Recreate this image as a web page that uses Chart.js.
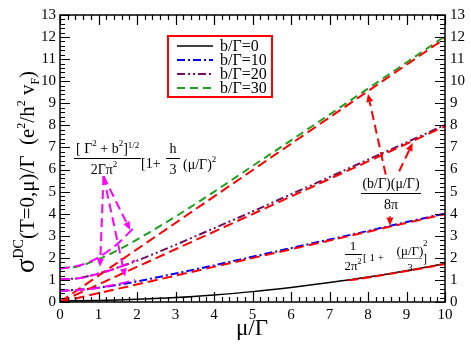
<!DOCTYPE html>
<html>
<head>
<meta charset="utf-8">
<script src="https://cdn.jsdelivr.net/npm/chart.js@4.4.1/dist/chart.umd.min.js"></script>
<style>
  body { margin: 0; background: #fff; }
</style>
</head>
<body>
<canvas id="chart" width="471" height="346"></canvas>
<script>
// mu/Gamma grid used by the full curves
const mu = [0, 0.5, 1, 1.5, 2, 3, 4, 5, 6, 7, 8, 9, 10];
const sigmaB0 = [0.05, 0.055, 0.07, 0.09, 0.12, 0.2, 0.32, 0.47, 0.66, 0.88, 1.13, 1.42, 1.74];
const sigmaB10 = [0.51, 0.56, 0.65, 0.77, 0.93, 1.29, 1.66, 2.05, 2.44, 2.83, 3.22, 3.62, 4.01];
const sigmaB20 = [1.02, 1.09, 1.29, 1.56, 1.87, 2.59, 3.34, 4.1, 4.88, 5.66, 6.45, 7.23, 8.02];
const sigmaB30 = [1.52, 1.63, 1.94, 2.35, 2.83, 3.87, 4.99, 6.16, 7.32, 8.49, 9.67, 10.85, 12.04];

// large mu/Gamma asymptotes (red dashed)
const asymMu = [0, 10];
const asymB10 = [0, 3.98];
const asymB20 = [0, 7.96];
const asymB30 = [0, 11.94];
const asymB0Mu = [7.5, 8, 9, 10];
const asymB0 = [0.98, 1.11, 1.4, 1.72];

// small mu/Gamma expansions (magenta dashed)
const smallMu = [0, 0.5, 1, 1.5, 1.95];
const smallB10 = [0.51, 0.54, 0.64, 0.81, 1.0];
const smallB20 = [1.02, 1.08, 1.28, 1.55, 1.88];
const smallB30 = [1.52, 1.65, 2.02, 2.65, 3.42];

const xTicks = [0, 1, 2, 3, 4, 5, 6, 7, 8, 9, 10];
const yTicks = [0, 1, 2, 3, 4, 5, 6, 7, 8, 9, 10, 11, 12, 13];

// annotation arrows [fromX, fromY, toX, toY] in data units
const magentaArrows = [[1.13, 5.7, 1.82, 3.27], [1.13, 5.7, 1.04, 1.6], [1.13, 5.7, 1.69, 1.15]];
const redArrows = [[8.46, 5.77, 8.0, 9.42], [8.81, 5.92, 9.16, 7.2], [8.57, 3.88, 8.57, 3.47]];

const SERIF = '"Liberation Serif", "DejaVu Serif", serif';
const pts = (xs, ys) => xs.map((x, i) => ({ x: x, y: ys[i] }));

function line(label, xs, ys, color, dash, width, order, inLegend) {
  return {
    label: label,
    data: pts(xs, ys),
    borderColor: color,
    borderDash: dash,
    borderWidth: width,
    pointRadius: 0,
    fill: false,
    cubicInterpolationMode: 'monotone',
    order: order,
    inLegend: inLegend
  };
}

function drawRuns(ctx, x, y, parts, align) {
  let w = 0;
  parts.forEach(p => {
    ctx.font = p.size + 'px ' + SERIF;
    p.w = ctx.measureText(p.t).width;
    w += p.w;
  });
  let cx = align === 'center' ? x - w / 2 : (align === 'right' ? x - w : x);
  ctx.textAlign = 'left';
  ctx.textBaseline = 'alphabetic';
  parts.forEach(p => {
    ctx.font = p.size + 'px ' + SERIF;
    ctx.fillText(p.t, cx, y - (p.dy || 0));
    cx += p.w;
  });
  return w;
}

function arrow(ctx, xs, ys, a, color) {
  const x0 = xs.getPixelForValue(a[0]), y0 = ys.getPixelForValue(a[1]);
  const x1 = xs.getPixelForValue(a[2]), y1 = ys.getPixelForValue(a[3]);
  const ang = Math.atan2(y1 - y0, x1 - x0);
  const c = Math.cos(ang), s = Math.sin(ang);
  const hl = 8, hw = 3.5;
  ctx.strokeStyle = color;
  ctx.fillStyle = color;
  ctx.lineWidth = 2;
  ctx.setLineDash([9, 5]);
  ctx.beginPath();
  ctx.moveTo(x0, y0);
  ctx.lineTo(x1 - hl * c, y1 - hl * s);
  ctx.stroke();
  ctx.setLineDash([]);
  ctx.beginPath();
  ctx.moveTo(x1, y1);
  ctx.lineTo(x1 - hl * c + hw * s, y1 - hl * s - hw * c);
  ctx.lineTo(x1 - hl * c - hw * s, y1 - hl * s + hw * c);
  ctx.closePath();
  ctx.fill();
}

const framePlugin = {
  id: 'frame',
  afterDatasetsDraw(chart) {
    const ctx = chart.ctx;
    const xs = chart.scales.x, ys = chart.scales.y;
    const a = chart.chartArea;
    ctx.save();

    // arrows
    magentaArrows.forEach(ar => arrow(ctx, xs, ys, ar, '#ff00ff'));
    redArrows.forEach(ar => arrow(ctx, xs, ys, ar, '#ff0000'));

    // frame
    ctx.strokeStyle = '#000';
    ctx.lineWidth = 1.5;
    ctx.setLineDash([]);
    ctx.strokeRect(a.left, a.top, a.right - a.left, a.bottom - a.top);

    // ticks, inward on all sides
    ctx.lineWidth = 1.2;
    ctx.beginPath();
    for (let v = 0; v <= 10.001; v += 0.2) {
      const major = Math.abs(v - Math.round(v)) < 0.01;
      const len = major ? 10 : 5;
      const px = Math.round(xs.getPixelForValue(v)) + 0.5;
      ctx.moveTo(px, a.bottom); ctx.lineTo(px, a.bottom - len);
      ctx.moveTo(px, a.top); ctx.lineTo(px, a.top + len);
    }
    for (let v = 0; v <= 13.001; v += 0.2) {
      const major = Math.abs(v - Math.round(v)) < 0.01;
      const len = major ? 10 : 5;
      const py = Math.round(ys.getPixelForValue(v)) + 0.5;
      ctx.moveTo(a.left, py); ctx.lineTo(a.left + len, py);
      ctx.moveTo(a.right, py); ctx.lineTo(a.right - len, py);
    }
    ctx.stroke();

    // tick labels
    ctx.fillStyle = '#000';
    ctx.font = '15px ' + SERIF;
    ctx.textBaseline = 'middle';
    yTicks.forEach(v => {
      const py = ys.getPixelForValue(v);
      ctx.textAlign = 'right';
      ctx.fillText(String(v), a.left - 4, py);
      ctx.textAlign = 'left';
      ctx.fillText(String(v), a.right + 5, py);
    });
    ctx.textAlign = 'center';
    ctx.textBaseline = 'alphabetic';
    xTicks.forEach(v => ctx.fillText(String(v), xs.getPixelForValue(v), 319));

    // axis titles
    drawRuns(ctx, 252, 335, [{ t: 'μ/Γ', size: 23 }], 'center');
    ctx.save();
    ctx.translate(34, 172);
    ctx.rotate(-Math.PI / 2);
    drawRuns(ctx, 0, 0, [
      { t: 'σ', size: 27 },
      { t: 'DC', size: 14, dy: 11 },
      { t: '(T=0,μ)/Γ  (e', size: 21 },
      { t: '2', size: 12, dy: 9 },
      { t: '/h', size: 21 },
      { t: '2', size: 12, dy: 9 },
      { t: ' v', size: 21 },
      { t: 'F', size: 12, dy: -5 },
      { t: ')', size: 21 }
    ], 'center');
    ctx.restore();

    // legend
    ctx.strokeStyle = '#ff0000';
    ctx.lineWidth = 2;
    ctx.strokeRect(168, 36, 104, 61);
    const rows = chart.data.datasets.filter(d => d.inLegend);
    rows.forEach((d, i) => {
      const y = 46 + i * 14;
      ctx.strokeStyle = d.borderColor;
      ctx.lineWidth = d.borderWidth;
      ctx.setLineDash(d.borderDash);
      ctx.beginPath();
      ctx.moveTo(177, y);
      ctx.lineTo(213, y);
      ctx.stroke();
      ctx.setLineDash([]);
      ctx.fillStyle = '#000';
      drawRuns(ctx, 220, y + 5, [{ t: d.label, size: 16 }], 'left');
    });

    // annotation: small mu expansion
    ctx.fillStyle = '#000';
    ctx.strokeStyle = '#000';
    ctx.lineWidth = 1;
    drawRuns(ctx, 76, 153, [
      { t: '[ Γ', size: 14 }, { t: '2', size: 9, dy: 7 },
      { t: ' + b', size: 14 }, { t: '2', size: 9, dy: 7 },
      { t: ']', size: 14 }, { t: '1/2', size: 9, dy: 5 }
    ], 'left');
    ctx.beginPath(); ctx.moveTo(74, 158.5); ctx.lineTo(141, 158.5); ctx.stroke();
    drawRuns(ctx, 104, 174, [{ t: '2Γπ', size: 14 }, { t: '2', size: 9, dy: 7 }], 'center');
    drawRuns(ctx, 141, 168, [{ t: '[1+', size: 14 }], 'left');
    drawRuns(ctx, 173, 153, [{ t: 'h', size: 14 }], 'center');
    ctx.beginPath(); ctx.moveTo(166, 158.5); ctx.lineTo(180, 158.5); ctx.stroke();
    drawRuns(ctx, 173, 174, [{ t: '3', size: 14 }], 'center');
    drawRuns(ctx, 183, 169, [{ t: '(μ/Γ)', size: 14 }, { t: '2', size: 9, dy: 7 }], 'left');

    // annotation: asymptote
    drawRuns(ctx, 391, 188, [{ t: '(b/Γ)(μ/Γ)', size: 14 }], 'center');
    ctx.beginPath(); ctx.moveTo(361, 193.5); ctx.lineTo(421, 193.5); ctx.stroke();
    drawRuns(ctx, 391, 209, [{ t: '8π', size: 14 }], 'center');

    // annotation: b = 0 curve
    drawRuns(ctx, 353, 250, [{ t: '1', size: 13 }], 'center');
    ctx.beginPath(); ctx.moveTo(345, 254.5); ctx.lineTo(362, 254.5); ctx.stroke();
    drawRuns(ctx, 353, 270, [{ t: '2π', size: 13 }, { t: '2', size: 8, dy: 6 }], 'center');
    drawRuns(ctx, 363, 261, [{ t: '[ 1 + ', size: 11 }], 'left');
    drawRuns(ctx, 410, 255, [{ t: '(μ/Γ)', size: 13 }], 'center');
    ctx.strokeStyle = '#888';
    ctx.beginPath(); ctx.moveTo(398, 258.5); ctx.lineTo(422, 258.5); ctx.stroke();
    drawRuns(ctx, 410, 271, [{ t: '3', size: 11 }], 'center');
    drawRuns(ctx, 423, 246, [{ t: '2', size: 9 }], 'left');
    drawRuns(ctx, 423, 263, [{ t: ']', size: 12 }], 'left');

    ctx.restore();
  }
};

const ctx = document.getElementById('chart');
new Chart(ctx, {
  type: 'line',
  data: {
    datasets: [
      line('b/Γ=0', mu, sigmaB0, '#000000', [], 1.5, 6, true),
      line('b/Γ=10', mu, sigmaB10, '#0000ff', [8, 3, 2, 3], 2, 5, true),
      line('b/Γ=20', mu, sigmaB20, '#701060', [8, 3, 2, 3, 2, 3], 2, 4, true),
      line('b/Γ=30', mu, sigmaB30, '#1f9f1f', [8, 5], 2, 3, true),
      line('asym 0', asymB0Mu, asymB0, '#ff0000', [10, 3], 2, 2, false),
      line('asym 10', asymMu, asymB10, '#ff0000', [10, 5], 2, 2, false),
      line('asym 20', asymMu, asymB20, '#ff0000', [10, 5], 2, 2, false),
      line('asym 30', asymMu, asymB30, '#ff0000', [10, 5], 2, 2, false),
      line('small 10', smallMu, smallB10, '#ff00ff', [10, 5], 2, 1, false),
      line('small 20', smallMu, smallB20, '#ff00ff', [10, 5], 2, 1, false),
      line('small 30', smallMu, smallB30, '#ff00ff', [10, 5], 2, 1, false)
    ]
  },
  options: {
    responsive: false,
    animation: false,
    layout: { padding: { left: 60, right: 26, top: 15, bottom: 44 } },
    scales: {
      x: { type: 'linear', min: 0, max: 10, display: false },
      y: { type: 'linear', min: 0, max: 13, display: false }
    },
    plugins: {
      legend: { display: false },
      tooltip: { enabled: false }
    }
  },
  plugins: [framePlugin]
});
</script>
</body>
</html>
